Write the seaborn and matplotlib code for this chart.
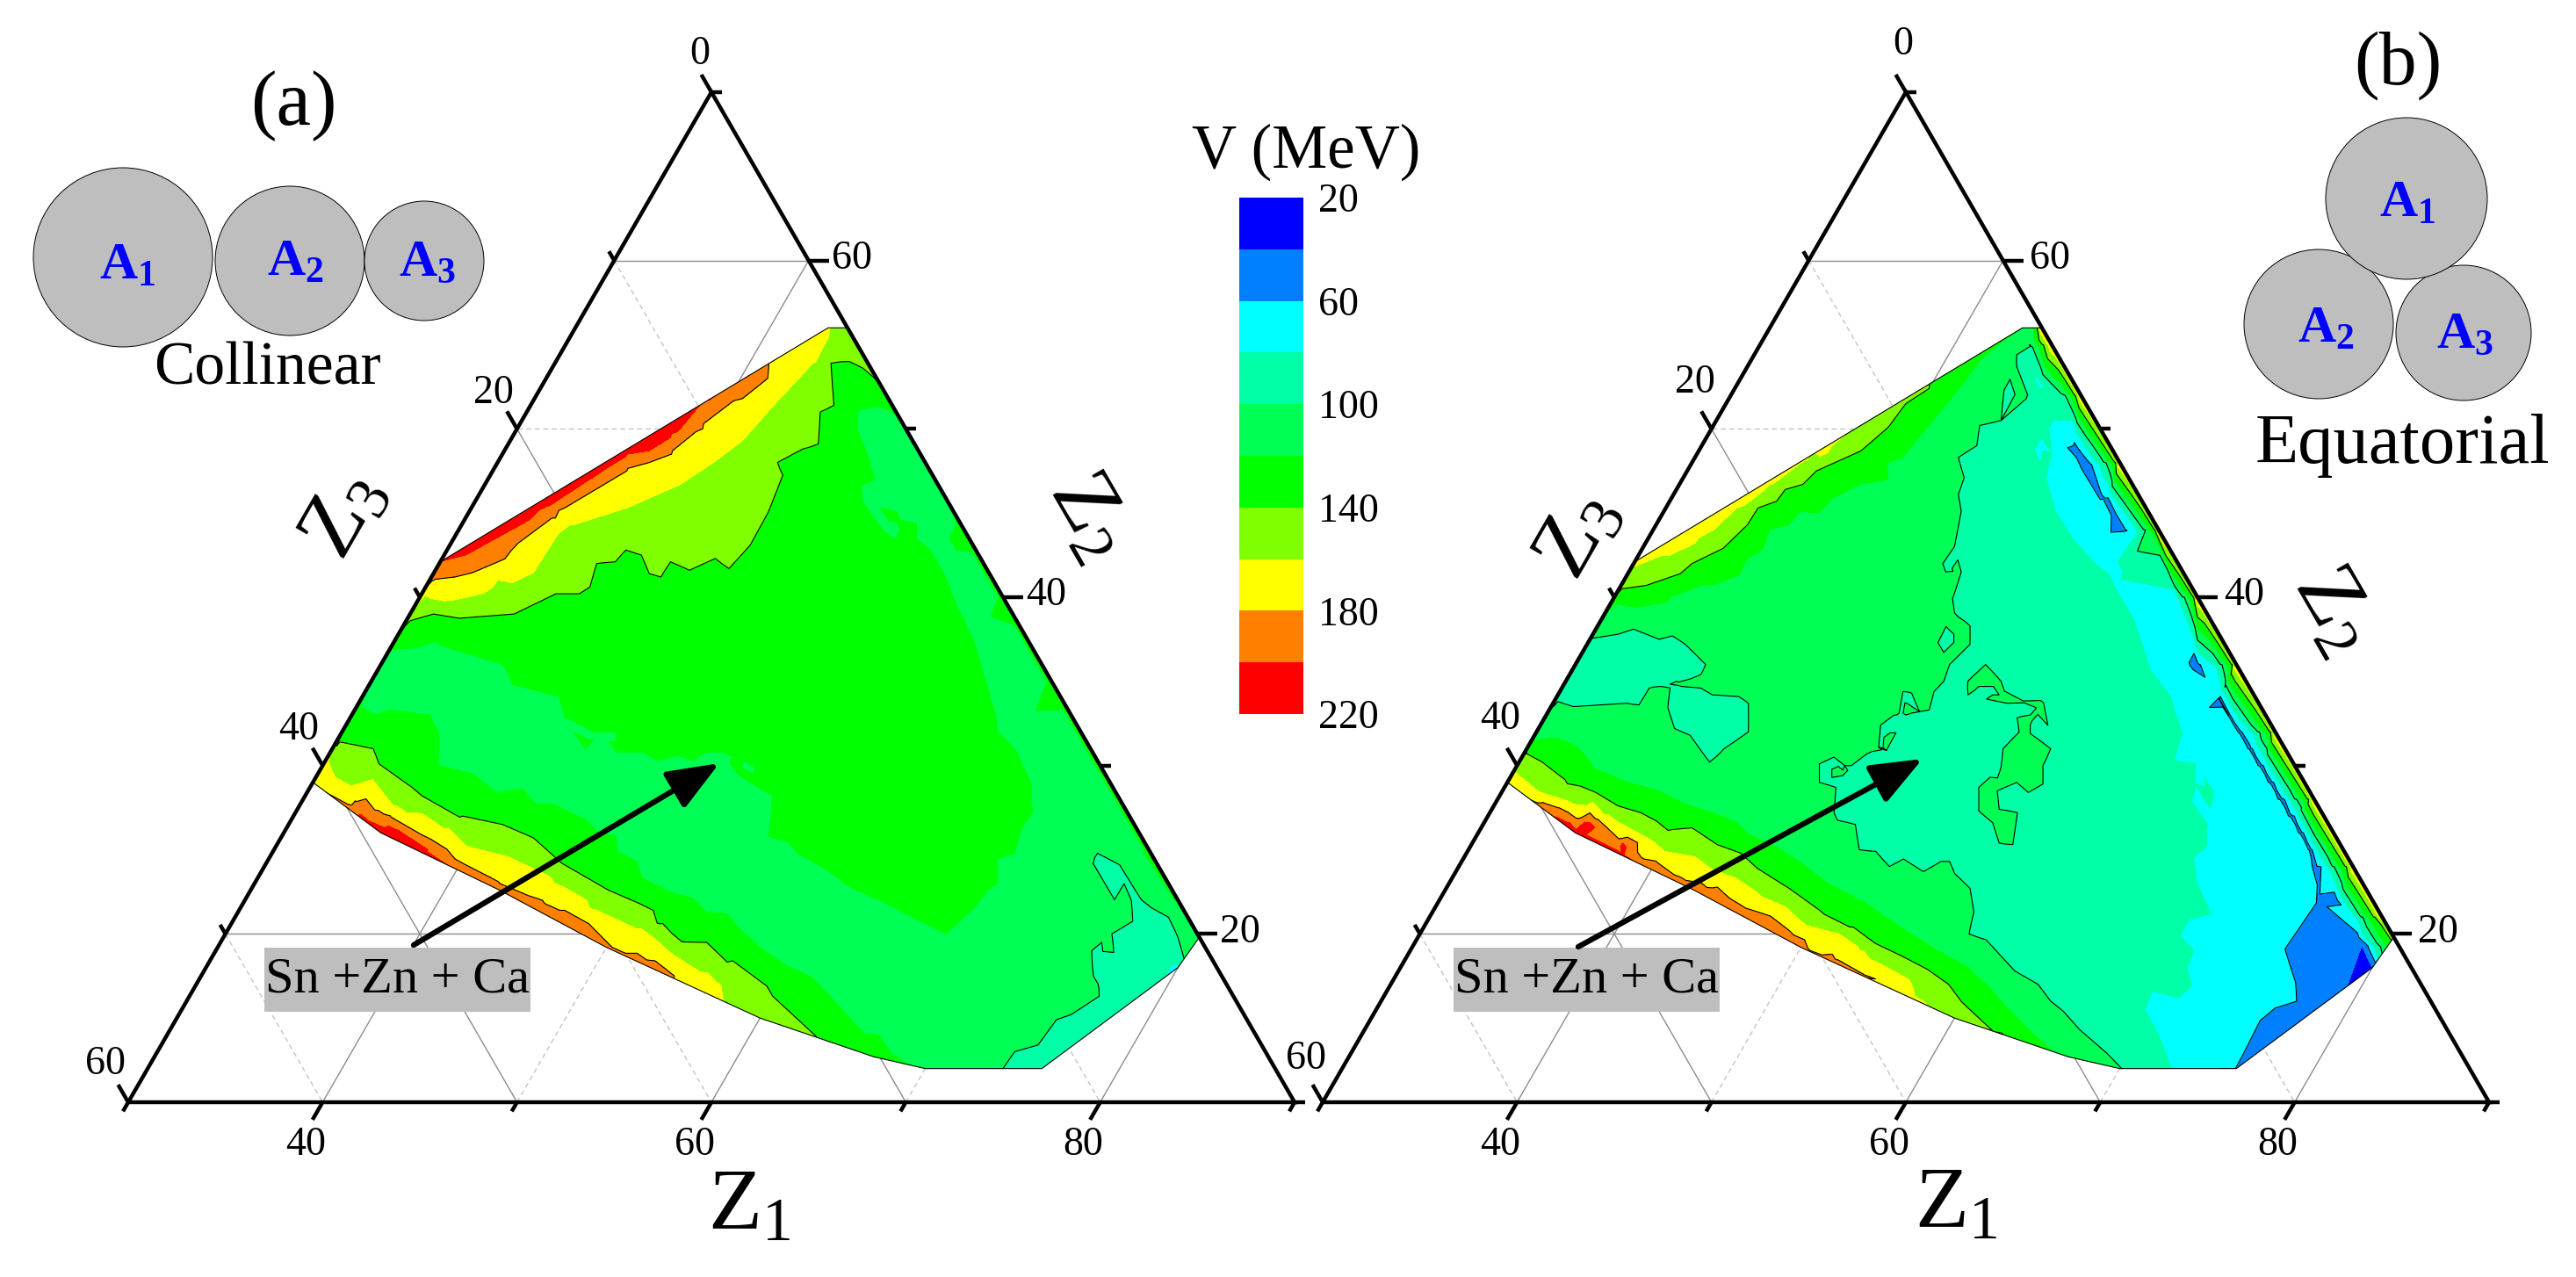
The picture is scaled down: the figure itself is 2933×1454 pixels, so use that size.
import numpy as np
import pandas as pd
import matplotlib
matplotlib.use("Agg")
import matplotlib.pyplot as plt
from matplotlib.colors import ListedColormap
from matplotlib.patches import Circle, Polygon, Rectangle
from matplotlib.tri import Triangulation
import seaborn as sns

# V levels and colours of the scale
levels = [20, 40, 60, 80, 100, 120, 140, 160, 180, 200, 220]
line_levels = [60, 100, 140, 180]
band_colors = ["#0000ff", "#0080ff", "#00ffff", "#00ffa6", "#00ff55",
               "#00ff00", "#80ff00", "#ffff00", "#ff8000", "#ff0000"]
scale_labels = ["20", "60", "100", "140", "180", "220"]

# outline of the calculated region (same in both panels)
hull_z1 = [30, 43, 44, 80.2, 80, 76, 70, 67, 60, 50, 42.8, 35, 30]
hull_z2 = [42.1, 56, 56, 19.8, 18, 12, 12, 12.7, 15, 19.2, 22.6, 26, 29]

# panel (a), collinear: V read along the edge of the region
a_edge_z1 = [30, 33.3, 36.3, 38.7, 41, 43.1, 44, 47.2, 48.7, 49.6, 52, 54, 56, 60, 65, 70, 75, 78, 80.2,
             80, 80, 78, 76, 74, 72, 70, 67, 63.5, 60, 57.6, 54.4, 52, 50, 46, 42.8, 40, 38, 35, 33, 30.75, 30,
             30, 30]
a_edge_z2 = [42.1, 45.6, 48.8, 51.4, 53.9, 56, 56, 52.8, 51.3, 50.4, 48, 46, 44, 40, 35, 30, 25, 22, 19.8,
             18.6, 18, 15.5, 12, 12, 12, 12, 12.7, 13.8, 15, 16, 17.3, 18.4, 19.2, 21.2, 22.6, 23.7, 24.7, 26, 27,
             28.5, 29, 35, 36]
a_edge_v = [200, 215, 215, 200, 180, 160, 152, 140, 125, 120, 112, 118, 124, 124, 124, 124, 124, 122, 112,
            100, 78, 88, 88, 100, 108, 115, 125, 140, 150, 160, 180, 185, 190, 190, 190, 200, 208, 208, 195,
            180, 172, 112, 114]

# panel (a): points read on the boundaries of the colour bands
a200_up_z1 = [30.5, 33.5, 36.4, 38.1, 38.7]
a200_up_z2 = [42.3, 45.1, 48.5, 49.7, 51.6]
a180_up_z1 = [30.1, 33.3, 34.8, 36.9, 38.7, 39.55, 40.7, 41.4, 41]
a180_up_z2 = [40.8, 42.7, 45.3, 47.5, 48.5, 50, 51.8, 53, 53.9]
a160_up_z1 = [30.2, 33.45, 35.75, 38, 40.05, 41.1, 41.95, 42.5, 43, 43.25, 43.15]
a160_up_z2 = [40, 40.6, 44.3, 45.3, 46.7, 48, 49.3, 51.4, 53, 53.9, 55.9]
a140_up_z1 = [30.2, 31.2, 32.65, 35.35, 36.9, 38.1, 38.45, 38.1, 39, 39.2, 40.15, 41.1, 41.8, 41.85, 43.07,
              44.05, 45.05, 45.45, 45.4, 45.05, 44.4, 45.3, 45.95, 45.1, 45.6, 44.2, 45.1, 46, 47.2]
a140_up_z2 = [38.6, 39, 38.75, 39, 40.2, 40.2, 40.6, 42, 42.1, 42.8, 42.5, 41.4, 41.2, 42.1, 41.6,
              42.3, 41.7, 43.1, 45.06, 47.25, 48, 48.8, 49.1, 51, 51.4, 53.9, 54, 53.6, 52.8]
a120_mid_z1 = [30.15, 32.6, 36.3, 37.4, 40.1, 41, 42.95, 43, 43.3, 44.1, 44.7, 46.1, 47.05, 48, 48.9, 49.3,
               50.15, 51.6, 51.5, 52.3, 52.5, 54.05, 55.05, 56.15, 57.2, 59.05, 60.7, 63, 67.05, 67.75, 67.9,
               68.2, 67.5, 68.2, 67.8, 67.9, 67, 65.1, 63.7, 63.3, 59.8, 57.95, 56.4, 54.85, 52, 52.7, 52.75,
               51.8, 50, 49.4, 49.9, 48.8, 47.5, 47, 47.75, 49.5]
a120_mid_z2 = [36.9, 37.1, 36, 34.8, 34.1, 32.9, 32, 31, 32, 32, 30.8, 30.8, 30.3, 30.6, 30.3, 30.8,
               30.8, 29.5, 30.3, 29.9, 29, 28.2, 25.8, 25.5, 24.7, 23.8, 22.8, 21.84, 20, 21.6, 22.6,
               23, 24.45, 24.8, 26.3, 27.2, 28.9, 31, 32, 32.75, 37.4, 39.4, 41.25, 42.8, 45.06, 44, 43.4,
               44, 45.6, 46.6, 47, 48.45, 50, 51.1, 51.3, 50.4]
a120_low_z1 = [30.2, 31.2, 31.8, 34, 35, 36, 38, 39.7, 41, 42.1, 43, 45.1, 46.2, 47.2, 47.7, 49, 49.8, 51.6,
               53, 54.1, 55.2, 56.15, 58.2, 59.85, 61.5, 66.6, 67.8, 69.25]
a120_low_z2 = [33.5, 33, 33.3, 33, 31.9, 30, 29.5, 28.4, 28.6, 27.7, 27.7, 26.8, 26, 25.8, 24.9, 24.3, 23.3,
               22.5, 22.1, 21.3, 21.2, 20.4, 19, 18.1, 17.4, 14, 12.9, 12.1]
a140_low_z1 = [30.2, 32.1, 32.85, 35.25, 38.7, 41, 43, 45.2, 48.4, 52.2, 53, 56.9, 59.4, 60, 63.45]
a140_low_z2 = [31.4, 31, 30.1, 28.7, 27, 26.5, 25.7, 24.2, 22.6, 20.6, 20, 18.4, 16.9, 16.3, 13.9]
a160_low_z1 = [30.2, 31, 31.85, 35, 38.3, 39.8, 42.2, 45, 48.4, 51, 55.9, 57.05, 57.6]
a160_low_z2 = [30.2, 29.3, 28.9, 27.6, 26.3, 25.2, 24.6, 23.4, 21.4, 20.3, 17.7, 16.9, 16]
a180_low_z1 = [30.75, 32.45, 35, 37.8, 40.1, 42.5, 45.3, 46.75, 48.4, 50.3, 52.9, 54.35]
a180_low_z2 = [28.5, 27.7, 27, 25.6, 24.2, 23.1, 22, 21.4, 20.6, 19.2, 18.4, 17.5]
a200_low_z1 = [33.4, 35.2, 37.95, 39.95]
a200_low_z2 = [27.1, 26.4, 24.9, 23.8]
a100_z1 = [74, 74.1, 75.1, 75.3, 75.9, 76.8, 76.4, 75.9, 75.06, 76.25, 75.6, 76.3, 75.6, 73.95, 78, 79.1, 80]
a100_z2 = [12, 13, 13.4, 14.9, 15.2, 16.3, 17, 17.5, 19, 18.9, 20, 20.75, 22, 24.1, 21, 19.8, 18.6]

# panel (a): thin strip of the next band along the Z2 side
a_strip_z2 = [45, 40, 35, 30, 25, 21]
a_strip_z3 = [0.7, 0.7, 0.7, 0.7, 0.7, 0.7]
a_strip_v = [112, 112, 112, 112, 112, 112]

# panel (b), equatorial: V read along the edge of the region
b_edge_z1 = [30, 33.3, 36.3, 39.8, 43, 43.3, 43.5, 43.7, 43.85, 44, 80.2, 80.15, 80.1, 80.05, 80, 79.25, 78,
             76, 60, 54.1, 52, 50, 46, 42.8, 40, 38, 35, 33, 31.5, 30, 30, 30]
b_edge_z2 = [42.1, 45.6, 48.8, 52.8, 56, 56, 56, 56, 56, 56, 19.8, 19.2, 18.8, 18.4, 18, 16.9, 15.5,
             12, 15, 17.4, 18.4, 19.2, 21.2, 22.6, 23.7, 24.7, 26, 27.2, 28, 29, 32.5, 35.5]
b_edge_v = [170, 176, 168, 140, 120, 105, 115, 135, 152, 178, 150, 120, 100, 70, 35, 40, 48,
            58, 150, 180, 185, 190, 190, 190, 195, 203, 205, 197, 182, 170, 112, 92]

# panel (b): points read on the boundaries of the colour bands
b160_up_z1 = [30.1, 31.25, 32.55, 33.1, 33.65, 34.65, 35.85, 36.85, 37.55]
b160_up_z2 = [41.8, 42.5, 43.5, 44, 45.3, 46.7, 48.5, 49.3, 50.5]
b140_up_z1 = [30.15, 31.3, 32.7, 33, 34.15, 34.7, 34.75, 35.5, 35.6, 36.35, 36.65, 37.5, 38.35, 39.05, 39.25, 40, 39.8]
b140_up_z2 = [40.5, 40.7, 41.4, 42, 42.9, 44.3, 45.3, 45.7, 46.4, 46.7, 47.5, 48.1, 48.7, 50.1, 51.5, 52.4, 52.8]
b120_up_z1 = [30.25, 31.4, 32.85, 34.65, 35.75, 35.7, 36.2, 36, 36.8, 37.05, 38, 38.3, 39.25, 40.6, 40.05,
              40.7, 40.95, 41.3, 41.6, 41.8, 42.4, 43]
b120_up_z2 = [39.6, 39.4, 39.7, 40.7, 41.3, 42.3, 42.8, 44, 44.3, 45.1, 45, 45.9, 46.7, 47, 47.9,
              48.4, 49.7, 51.2, 52.7, 54.2, 55.2, 56]
b100_z1 = [43.95, 43.5, 43.85, 45.3, 43.9, 44.65, 43.7, 44.15, 43.55, 44.45, 44.65, 45.3, 46, 45.9, 46.3, 47.1,
           47.45, 47.95, 48, 48.25, 49.15, 49.7, 49.25, 49.45, 49.25, 49.55, 49.1, 48.15, 47.65, 48.1, 48.5, 47.9,
           47.5, 48.05, 48.55, 47.65, 47.2, 47.05, 46.85, 46.05, 45.5, 46.05, 47.05, 47.7, 48.1, 49.15, 50.1, 51,
           52.15, 52.65, 54.05, 54.65, 55.1, 55.7, 56.95, 57.85, 58.25, 59.3, 61.7, 63.3, 64.45, 65.4, 66.8, 68.9,
           70.1]
b100_z2 = [54.9, 54.4, 53.7, 51.8, 52.3, 50.5, 50.2, 49, 48.3, 47.1, 46.1, 45.1, 43, 42, 41.5, 41.5,
           39.9, 39.1, 37.3, 38.85, 38.3, 37.2, 36, 35, 34.4, 33.3, 33.2, 34.3, 34.4, 33.1, 33, 33,
           32.4, 31.1, 30.9, 30.7, 30, 29.4, 30, 30.5, 30.1, 29, 28.7, 27.2, 26.75, 26.5, 25, 24.9,
           24, 24.45, 23.7, 24.3, 24.3, 23.6, 22.7, 21.3, 20, 19.65, 17.8, 17, 16, 15.4, 14.3, 12.9,
           12]
b100_left_z1 = [30.05, 31.3, 31.95, 33.55, 34.15, 35.05, 36.7, 36.75, 35.7, 36.1, 37.15, 37.95, 39.35, 40.05,
                40.9, 40.15, 39.8, 38, 37, 35.05, 34.5, 34.47, 33.8, 31.15, 30.2]
b100_left_z2 = [37.55, 37.8, 38.1, 37.5, 37.7, 37.2, 36, 35.4, 35, 34.7, 34.6, 34.2, 34.1, 33.7,
                32, 31, 30.2, 31.8, 32.2, 34.7, 34.6, 33.6, 33.7, 33.5, 33.8]
b100_isle1_z1 = [50.7, 51.1, 52.4, 53.35, 52.15, 51.4, 51.1, 50.7]
b100_isle1_z2 = [35, 36, 35, 33.7, 34.7, 34.7, 34.2, 35]
b100_isle2_z1 = [55.1, 55.2, 55.45, 56.95, 57.05, 57.6, 57.1, 56.2, 55.45, 56.1, 57.14, 57.85, 57.1, 56.17,
                 55.1, 54.4, 54.95, 54.5, 54.83, 54.3, 54.9, 55.1]
b100_isle2_z2 = [33.8, 32.4, 31.9, 31, 30, 28.9, 28.4, 29, 28.5, 27.4, 27.2, 25.3, 25.4, 26.6,
                 27.3, 28.7, 29.9, 31, 32, 32.85, 33, 33.8]
b80_z1 = [45.5, 47.3, 47.2, 48.2, 48.65, 50.15, 51.8, 53.85, 54.7, 55.45, 57.35, 58.95, 59.7, 61.55, 63.25, 63.65,
          64.85, 65.45, 66.65, 65.75, 67.25, 67.85, 67.55, 68.55, 70.1, 69.15, 69.15, 70.3, 70.46, 71.25, 70.9,
          69.4, 69.55, 71, 72.65]
b80_z2 = [52.6, 50.07, 48.8, 48.6, 47.1, 45.1, 43.5, 41.9, 41.4, 40.6, 38.7, 36.7, 35.7, 34.1, 31.9, 30.3,
          30.1, 28.9, 28.4, 27.9, 26.5, 25.2, 24.5, 22.9, 21.2, 20.9, 19.9, 19, 18, 16.9, 16.2,
          16.6, 15.5, 14, 12]
b60_top_z1 = [49.1, 50.55, 52.45, 54.25, 52.1, 50.25, 49.1]
b60_top_z2 = [49, 47.9, 45.9, 43.9, 45.8, 47.6, 49]
b60_west_z1 = [64.1, 65.08, 66.08, 67.1, 68.12, 69.15, 70.15, 71.18, 72.2, 73.2, 73.9, 75.2, 74.95, 76.5, 77.1,
               76.2, 75.8, 75.9]
b60_west_z2 = [34, 33, 32, 31, 30, 29, 28, 27, 26, 25, 24, 21.84, 19.1, 17.1, 16,
               15.6, 14.85, 12]
b60_east_z1 = [64.1, 65.18, 66.28, 67.32, 68.38, 69.42, 70.45, 71.48, 72.45, 73.4, 74.3, 76.2, 78.4, 80]
b60_east_z2 = [34, 33, 32, 31, 30, 29, 28, 27, 26, 25, 24, 22, 19.8, 18.3]
b120_low_z1 = [30.05, 31.15, 32.4, 33.7, 36.2, 38.05, 39.8, 41.46, 43, 43.95, 45.67, 47.27, 49.5, 51.98, 54.5,
               56.76, 59.2, 60.9, 62.1, 64.3, 66.2]
b120_low_z2 = [31.5, 31.65, 31.2, 30.2, 29, 28.5, 27.7, 27.2, 26.6, 25.9, 25.2, 24.35, 23, 21.84, 20.4,
               19.2, 18, 16.8, 15.84, 14.2, 12.9]
b140_low_z1 = [30.15, 31.2, 32.9, 34.85, 36.4, 37.76, 39.9, 40.85, 42.65, 44.1, 45.4, 47.65, 49.87, 52.1, 53.7,
               55.5, 57.15, 58.7, 59.9, 62.4]
b140_low_z2 = [30.7, 30.2, 29.15, 28.4, 27.6, 27.2, 26.2, 26.3, 25.3, 24.8, 23.9, 22.7, 21.4, 20.4, 19.44,
               18.66, 17.9, 17, 15.95, 14.2]
b160_low_z1 = [30.1, 31.8, 33.8, 36, 37.8, 39.15, 40.15, 41.9, 43.15, 44.5, 46.1, 47.95, 49.9, 51.25, 53.15, 56.8, 57.3]
b160_low_z2 = [29.6, 28.5, 27.84, 27.06, 26.2, 25.55, 24.9, 24.56, 23.8, 23.36, 22.47, 21.63, 20.43, 20.07, 19, 17, 16.3]
b180_low_z1 = [32, 34.7, 37.4, 39.1, 41.75, 43.7, 46, 47.5, 48.9, 50.6, 52.3, 54.1]
b180_low_z2 = [27.84, 26.85, 25.65, 24.56, 23.36, 22.73, 21.53, 21.06, 20.2, 19, 18.45, 17.56]
b200_low_z1 = [34.24, 35.3, 37.8, 39.8]
b200_low_z2 = [26.64, 26.64, 25.34, 23.8]

# panel (b): the lowest spots
b_spot_z1 = [79.5, 78.8, 79.9, 62]
b_spot_z2 = [18, 19.3, 18.1, 36]
b_spot_v = [33, 40, 40, 57]

# panel (b): stacked bands along the Z2 side, as distance in Z3 from that side
b_side_z2 = [55, 52, 48, 44, 40, 36, 32, 28, 24, 21]
b_side_z3_100 = [1.1, 0.85, 0.75, 0.72, 0.72, 0.78, 0.85, 0.95, 1.02, 1.05]
b_side_z3_120 = [0.75, 0.55, 0.45, 0.42, 0.42, 0.48, 0.55, 0.62, 0.68, 0.72]
b_side_z3_140 = [0.45, 0.3, 0.22, 0.2, 0.2, 0.22, 0.25, 0.3, 0.36, 0.4]
b_cyan_z2 = [50, 48, 44, 40, 36, 32, 28, 24, 21]
b_cyan_z3 = [1.25, 1.15, 1.05, 1.05, 1.1, 1.2, 1.25, 1.3, 1.35]

# tick values
z1_major = [40, 60, 80]
z1_minor = [30, 50, 70, 90]
z2_major = [20, 40, 60]
z2_minor = [10, 30, 50, 70]
z3_major = [0, 20, 40, 60]
z3_minor = [10, 30, 50]

W, H = 2933, 1454
SIDE = 1328.0
ROOT3 = np.sqrt(3) / 2


def to_xy(z1, z2):
    z1 = np.asarray(z1, dtype=float)
    z2 = np.asarray(z2, dtype=float)
    return (z1 - 30) / 60 + (z2 - 10) / 120, (z2 - 10) / 60 * ROOT3


def spots(v, z1, z2):
    x, y = to_xy(z1, z2)
    return pd.DataFrame({"x": x, "y": y, "v": v})


def boundary(level, z1, z2, high_on_left, width=0.1):
    # a band boundary plus one row just inside the band on each side of it,
    # so the triangles between two boundaries never sit exactly on a level
    x, y = to_xy(z1, z2)
    tx, ty = np.gradient(x), np.gradient(y)
    norm = np.hypot(tx, ty) + 1e-9
    nx, ny = -ty / norm * width / 60, tx / norm * width / 60
    side = 1 if high_on_left else -1
    return pd.concat([pd.DataFrame({"x": x, "y": y, "v": level}),
                      pd.DataFrame({"x": x + nx, "y": y + ny, "v": level + side * 5}),
                      pd.DataFrame({"x": x - nx, "y": y - ny, "v": level - side * 5})])


def table(parts):
    df = pd.concat(parts, ignore_index=True)
    return df.drop_duplicates(subset=["x", "y"]).reset_index(drop=True)


a_parts = [spots(a_edge_v, a_edge_z1, a_edge_z2),
           spots(a_strip_v, 100 - np.array(a_strip_z2) - np.array(a_strip_z3), a_strip_z2),
           boundary(200, a200_up_z1, a200_up_z2, True),
           boundary(180, a180_up_z1, a180_up_z2, True),
           boundary(160, a160_up_z1, a160_up_z2, True),
           boundary(140, a140_up_z1, a140_up_z2, True),
           boundary(120, a120_mid_z1, a120_mid_z2, True),
           boundary(120, a120_low_z1, a120_low_z2, False),
           boundary(140, a140_low_z1, a140_low_z2, False),
           boundary(160, a160_low_z1, a160_low_z2, False),
           boundary(180, a180_low_z1, a180_low_z2, False),
           boundary(200, a200_low_z1, a200_low_z2, False, 0.06),
           boundary(100, a100_z1, a100_z2, True)]

side_z2 = np.array(b_side_z2, dtype=float)
cyan_z2 = np.array(b_cyan_z2, dtype=float)
b_parts = [spots(b_edge_v, b_edge_z1, b_edge_z2),
           spots(b_spot_v, b_spot_z1, b_spot_z2),
           spots(175, 100 - side_z2, side_z2),
           boundary(160, b160_up_z1, b160_up_z2, True),
           boundary(140, b140_up_z1, b140_up_z2, True),
           boundary(120, b120_up_z1, b120_up_z2, True),
           boundary(100, b100_z1, b100_z2, False),
           boundary(100, b100_left_z1, b100_left_z2, True),
           boundary(100, b100_isle1_z1, b100_isle1_z2, False),
           boundary(100, b100_isle2_z1, b100_isle2_z2, False),
           boundary(80, b80_z1, b80_z2, False),
           boundary(60, b60_top_z1, b60_top_z2, True, 0.05),
           boundary(60, b60_west_z1, b60_west_z2, False, 0.05),
           boundary(60, b60_east_z1, b60_east_z2, True, 0.05),
           boundary(120, b120_low_z1, b120_low_z2, False),
           boundary(140, b140_low_z1, b140_low_z2, False),
           boundary(160, b160_low_z1, b160_low_z2, False),
           boundary(180, b180_low_z1, b180_low_z2, False),
           boundary(200, b200_low_z1, b200_low_z2, False, 0.06),
           boundary(140, 100 - side_z2 - b_side_z3_140, side_z2, True, 0.03),
           boundary(120, 100 - side_z2 - b_side_z3_120, side_z2, True, 0.03),
           boundary(100, 100 - side_z2 - b_side_z3_100, side_z2, True, 0.03),
           boundary(80, 100 - cyan_z2 - b_cyan_z3, cyan_z2, True, 0.03)]

sns.set_theme(style="white")
plt.rcParams["font.family"] = ["Liberation Serif", "DejaVu Serif"]
plt.rcParams["mathtext.fontset"] = "custom"
plt.rcParams["mathtext.rm"] = "Liberation Serif"
plt.rcParams["mathtext.bf"] = "Liberation Serif:bold"
plt.rcParams["mathtext.it"] = "Liberation Serif:italic"

fig = plt.figure(figsize=(W / 100, H / 100), dpi=100, facecolor="white")


def grid_line(ax, kind, value, **style):
    # ends of the line Z = value on the outer triangle
    if kind == "z1":
        p, q = (value, 10), (value, 100 - value)
    elif kind == "z2":
        p, q = (30, value), (100 - value, value)
    else:
        p, q = (30, 70 - value), (90 - value, 10)
    x, y = to_xy([p[0], q[0]], [p[1], q[1]])
    ax.plot(x, y, zorder=1, **style)


def tick(ax, z1, z2, direction, length, label=None, offset=(0, 0)):
    x, y = to_xy(z1, z2)
    dx, dy = direction
    ax.plot([x, x + dx * length / SIDE], [y, y + dy * length / SIDE], color="black",
            lw=3.2, clip_on=False, zorder=6, solid_capstyle="butt")
    if label is not None:
        ax.text(x + offset[0] / SIDE, y + offset[1] / SIDE, label, fontsize=33,
                ha="center", va="center", color="black", clip_on=False)


def draw_panel(left, df, z3_off, z3_first, z3_last, right_off):
    ax = fig.add_axes([left / W, (H - 1255) / H, SIDE / W, SIDE * ROOT3 / H])
    ax.set_xlim(0, 1)
    ax.set_ylim(0, ROOT3)
    ax.axis("off")
    ax.patch.set_alpha(0)

    major = dict(color="#8c8c8c", lw=1.0)
    minor = dict(color="#c4c4c4", lw=1.0, ls=(0, (4, 3)))
    for v in z1_major:
        grid_line(ax, "z1", v, **major)
    for v in z1_minor[1:3]:
        grid_line(ax, "z1", v, **minor)
    for v in z2_major:
        grid_line(ax, "z2", v, **major)
    for v in z2_minor[1:3]:
        grid_line(ax, "z2", v, **minor)
    for v in z3_major[1:3]:
        grid_line(ax, "z3", v, **major)
    for v in z3_minor:
        grid_line(ax, "z3", v, **minor)

    tri = Triangulation(df["x"].to_numpy(), df["y"].to_numpy())
    z = df["v"].to_numpy()
    hx, hy = to_xy(hull_z1, hull_z2)
    outline = Polygon(np.column_stack([hx, hy]), closed=True, fc="none", ec="black", lw=0.8, zorder=4)
    ax.add_patch(outline)
    filled = ax.tricontourf(tri, z, levels=levels, colors=band_colors, antialiased=False, zorder=2)
    filled.set_clip_path(outline)
    lines = ax.tricontour(tri, z, levels=line_levels, colors="black", linewidths=0.8, zorder=3)
    lines.set_clip_path(outline)

    # outer triangle
    tx, ty = to_xy([30, 90, 30, 30], [10, 10, 70, 10])
    ax.plot(tx, ty, color="black", lw=3.2, clip_on=False, zorder=5, solid_joinstyle="miter")

    down_left = (-0.5, -ROOT3)
    up_left = (-0.5, ROOT3)
    for v in z1_major:
        tick(ax, v, 10, down_left, 23, str(v), (-19, -49))
    for v in z1_minor:
        tick(ax, v, 10, down_left, 12)
    for v in z2_major:
        tick(ax, 100 - v, v, (1, 0), 23, str(v), (right_off, 2))
    for v in z2_minor:
        tick(ax, 100 - v, v, (1, 0), 12)
    for v in z3_major:
        off = z3_off
        if v == 0:
            off = z3_first
        if v == 60:
            off = z3_last
        tick(ax, 30, 70 - v, up_left, 23, str(v), off)
    for v in z3_minor:
        tick(ax, 30, 70 - v, up_left, 12)


draw_panel(146, table(a_parts), (-27, 41), (-13, 43), (-26, 43), 49)
draw_panel(1506, table(b_parts), (-19, 53), (-3, 54), (-19, 49), 53)

# colour scale
cax = fig.add_axes([1411 / W, (H - 813) / H, 73 / W, 588 / H])
scale_mid = (np.array(levels[:-1]) + np.array(levels[1:])) / 2
sns.heatmap(scale_mid.reshape(-1, 1), ax=cax, cmap=ListedColormap(sns.color_palette(band_colors)),
            vmin=20, vmax=220, cbar=False, xticklabels=False, yticklabels=False)
cax.set_yticks(np.arange(0, 11, 2))
cax.set_yticklabels(scale_labels, rotation=0, fontsize=33, color="black", ha="left")
cax.yaxis.tick_right()
cax.tick_params(axis="y", length=0, pad=12)

# drawings and words around the plots, in picture pixels
top = fig.add_axes([0, 0, 1, 1])
top.set_xlim(0, W)
top.set_ylim(H, 0)
top.axis("off")
top.patch.set_alpha(0)


def ball(cx, cy, r, label, lx, ly, order):
    top.add_patch(Circle((cx, cy), r, fc="#bebebe", ec="black", lw=0.7, zorder=order))
    top.text(lx, ly, label, fontsize=43, color="#0000ff", ha="center", va="center", zorder=order + 1)


ball(140, 293, 102, r"$\mathbf{A_{1}}$", 145, 304, 3)
ball(330, 297, 85, r"$\mathbf{A_{2}}$", 336, 300, 3)
ball(483, 297, 68, r"$\mathbf{A_{3}}$", 487, 300, 3)
ball(2640, 369, 85, r"$\mathbf{A_{2}}$", 2648, 376, 3)
ball(2805, 379, 77, r"$\mathbf{A_{3}}$", 2807, 382, 3)
ball(2740, 226, 92, r"$\mathbf{A_{1}}$", 2741, 233, 5)

top.text(334, 121, "(a)", fontsize=64, ha="center", va="center", color="black")
top.text(304, 421, "Collinear", fontsize=50, ha="center", va="center", color="black")
top.text(2730, 75, "(b)", fontsize=62, ha="center", va="center", color="black")
top.text(2735, 507, "Equatorial", fontsize=58, ha="center", va="center", color="black")
top.text(1487, 173, "V (MeV)", fontsize=51, ha="center", va="center", color="black")

top.text(853, 1375, r"$\mathrm{Z_{1}}$", fontsize=72, ha="center", va="center", color="black")
top.text(2227, 1373, r"$\mathrm{Z_{1}}$", fontsize=72, ha="center", va="center", color="black")
top.text(393, 587, r"$\mathrm{Z_{3}}$", fontsize=72, ha="center", va="center", rotation=60, color="black")
top.text(1798, 610, r"$\mathrm{Z_{3}}$", fontsize=72, ha="center", va="center", rotation=60, color="black")
top.text(1239, 587, r"$\mathrm{Z_{2}}$", fontsize=72, ha="center", va="center", rotation=-60, color="black")
top.text(2656, 694, r"$\mathrm{Z_{2}}$", fontsize=72, ha="center", va="center", rotation=-60, color="black")

for bx, tx0, ty0, hx0, hy0 in [(301, 471, 1076, 819, 869), (1655, 1797, 1078, 2189, 864)]:
    top.add_patch(Rectangle((bx, 1079), 303, 73, fc="#bebebe", ec="none", zorder=6))
    top.text(bx + 151, 1115, "Sn +Zn + Ca", fontsize=42, ha="center", va="center", color="black", zorder=7)
    top.annotate("", xy=(hx0, hy0), xytext=(tx0, ty0), zorder=8,
                 arrowprops=dict(arrowstyle="-|>,head_length=0.8,head_width=0.32", color="black", lw=4.5,
                                 mutation_scale=45, shrinkA=0, shrinkB=0))

fig.savefig("out.png", dpi=100, facecolor="white")
